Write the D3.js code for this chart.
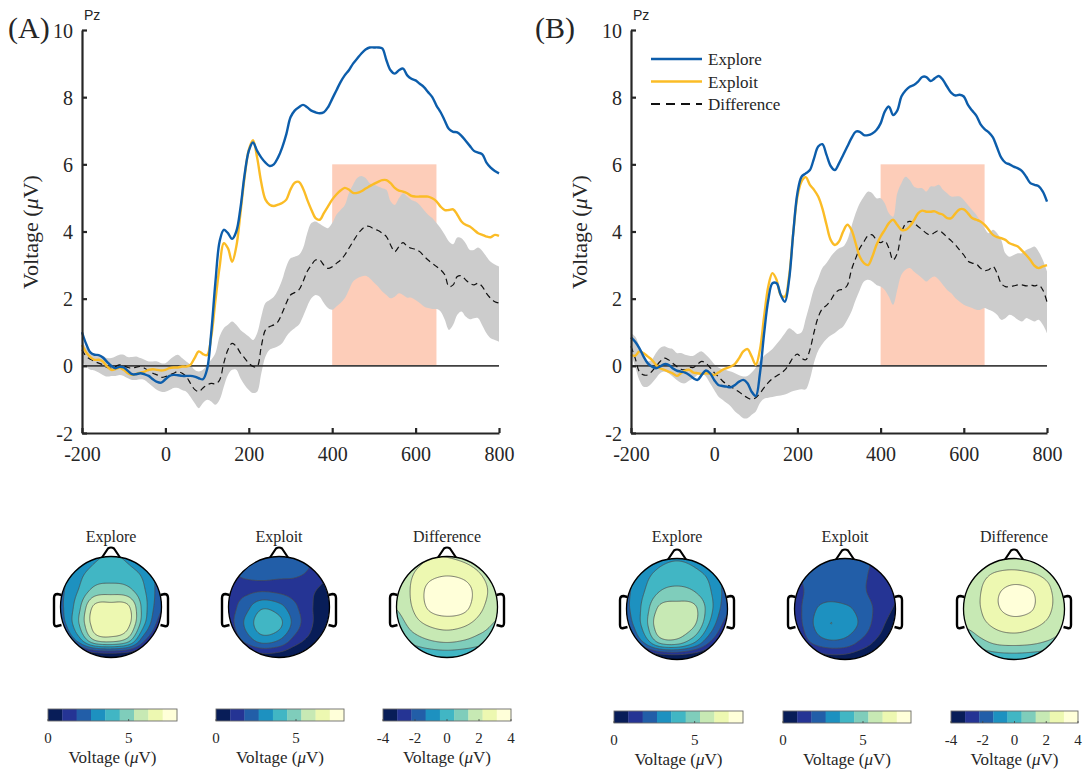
<!DOCTYPE html>
<html><head><meta charset="utf-8">
<script src="https://cdn.jsdelivr.net/npm/d3@7"></script>
<style>body{margin:0;background:#fff}svg{display:block}text{font-family:"Liberation Serif","Times New Roman",serif;fill:#262626}</style>
</head><body><svg id="c" width="1086" height="770"></svg>
<script>
// ---------- data ----------
const times = d3.range(-200, 801, 10);
const xTicks = [-200, 0, 200, 400, 600, 800];
const yTicks = [-2, 0, 2, 4, 6, 8, 10];
const seriesNames = ["Explore", "Exploit", "Difference"];
const windowMs = [400, 650];
const windowUv = [0, 6];

const exploreA = [1.0,0.65,0.4,0.33,0.32,0.25,0.12,0.0,-0.07,-0.03,
 -0.05,-0.15,-0.25,-0.25,-0.22,-0.25,-0.3,-0.4,-0.48,-0.5,
 -0.4,-0.3,-0.27,-0.28,-0.3,-0.3,-0.3,-0.32,-0.37,-0.4,
 -0.1,1.0,2.5,3.7,4.05,3.95,3.78,4.0,4.7,5.7,
 6.4,6.65,6.4,6.2,6.05,5.95,6.0,6.2,6.5,6.9,
 7.4,7.6,7.7,7.77,7.7,7.6,7.55,7.52,7.55,7.7,
 7.95,8.2,8.45,8.65,8.8,9.0,9.15,9.3,9.42,9.48,
 9.48,9.48,9.45,9.1,8.8,8.7,8.8,8.85,8.65,8.55,
 8.5,8.4,8.3,8.15,8.0,7.75,7.55,7.3,7.05,6.97,
 6.95,6.85,6.7,6.55,6.4,6.35,6.3,6.05,5.9,5.8,
 5.73];
const exploitA = [0.62,0.4,0.26,0.18,0.18,0.13,-0.02,-0.12,-0.1,-0.05,
 -0.12,-0.22,-0.27,-0.24,-0.2,-0.17,-0.12,-0.1,-0.12,-0.14,
 -0.12,-0.07,-0.05,-0.05,-0.02,-0.02,0.03,0.23,0.43,0.35,
 0.32,0.87,1.95,2.95,3.65,3.5,3.1,3.55,4.55,5.63,
 6.43,6.72,6.2,5.45,4.95,4.8,4.76,4.8,4.85,4.95,
 5.25,5.45,5.48,5.28,4.95,4.65,4.4,4.35,4.55,4.75,
 4.95,5.1,5.22,5.3,5.25,5.15,5.15,5.2,5.28,5.35,
 5.42,5.48,5.53,5.53,5.44,5.3,5.22,5.19,5.14,5.06,
 5.04,5.04,5.04,5.04,4.99,4.9,4.74,4.64,4.64,4.66,
 4.5,4.3,4.2,4.15,4.05,3.95,3.9,3.85,3.83,3.9,
 3.87];
const diffA = [0.48,0.28,0.2,0.13,0.08,0.03,-0.05,-0.07,-0.02,0.03,
 0.0,-0.05,-0.07,-0.04,-0.02,-0.07,-0.14,-0.22,-0.27,-0.34,
 -0.32,-0.27,-0.22,-0.17,-0.22,-0.32,-0.52,-0.7,-0.77,-0.66,
 -0.57,-0.52,-0.54,-0.42,0.08,0.48,0.67,0.58,0.38,0.23,
 0.08,-0.02,-0.02,0.58,1.07,1.17,1.22,1.32,1.57,1.87,
 2.11,2.18,2.26,2.51,2.81,3.0,3.15,3.15,3.0,2.9,
 2.95,3.05,3.15,3.3,3.5,3.7,3.9,4.05,4.15,4.15,
 4.07,4.03,3.95,3.85,3.6,3.4,3.55,3.67,3.55,3.5,
 3.47,3.4,3.27,3.15,3.05,2.96,2.86,2.71,2.36,2.41,
 2.66,2.68,2.56,2.46,2.41,2.46,2.36,2.16,2.01,1.91,
 1.87];
const diffAHigh = [0.78,0.53,0.4,0.36,0.33,0.3,0.23,0.23,0.28,0.33,
 0.33,0.26,0.26,0.28,0.23,0.18,0.13,0.13,0.13,0.08,
 0.08,0.18,0.28,0.33,0.23,0.13,0.03,-0.12,-0.17,-0.12,
 0.03,0.18,0.38,0.87,1.12,1.22,1.32,1.22,1.07,0.97,
 0.87,0.77,0.97,1.47,1.87,1.96,2.06,2.26,2.56,2.96,
 3.2,3.25,3.3,3.5,3.95,4.25,4.3,4.23,4.15,4.1,
 4.25,4.5,4.64,4.78,5.14,5.39,5.59,5.65,5.59,5.44,
 5.39,5.34,5.29,5.24,4.9,4.79,4.99,5.14,5.04,4.94,
 4.89,4.79,4.64,4.5,4.4,4.25,4.1,3.9,3.7,3.62,
 3.82,3.8,3.65,3.45,3.45,3.52,3.42,3.25,3.1,3.02,
 2.96];
const diffALow = [0.13,-0.02,-0.12,-0.14,-0.2,-0.27,-0.32,-0.3,-0.3,-0.27,
 -0.3,-0.37,-0.42,-0.42,-0.4,-0.42,-0.52,-0.62,-0.72,-0.77,
 -0.77,-0.72,-0.66,-0.66,-0.72,-0.77,-0.92,-1.11,-1.26,-1.11,
 -1.01,-1.06,-1.16,-1.01,-0.62,-0.27,-0.12,-0.12,-0.37,-0.57,
 -0.72,-0.81,-0.77,-0.22,0.28,0.48,0.53,0.58,0.67,0.87,
 1.02,1.12,1.22,1.47,1.77,2.01,2.11,2.06,1.87,1.72,
 1.67,1.77,1.87,2.01,2.26,2.51,2.61,2.66,2.68,2.61,
 2.48,2.36,2.21,2.11,2.01,2.06,2.16,2.11,2.03,2.03,
 1.96,1.87,1.77,1.72,1.69,1.69,1.62,1.37,1.07,1.22,
 1.52,1.62,1.47,1.39,1.42,1.42,1.2,0.97,0.82,0.77,
 0.72];

const exploreB = [0.85,0.72,0.53,0.28,0.08,-0.02,-0.07,-0.02,0.05,0.03,
 -0.07,-0.14,-0.17,-0.2,-0.27,-0.37,-0.42,-0.27,-0.14,-0.22,
 -0.42,-0.57,-0.6,-0.62,-0.64,-0.57,-0.47,-0.42,-0.52,-0.77,
 -0.9,-0.22,0.97,1.96,2.46,2.46,2.11,1.91,2.56,3.95,
 5.14,5.63,5.73,5.83,6.18,6.53,6.6,6.28,5.95,5.83,
 6.03,6.28,6.53,6.78,6.97,6.97,6.87,6.87,6.92,7.02,
 7.22,7.57,7.72,7.47,7.6,8.02,8.2,8.31,8.36,8.46,
 8.6,8.6,8.48,8.56,8.63,8.51,8.31,8.13,8.05,8.07,
 8.02,7.77,7.6,7.45,7.2,7.05,6.95,6.8,6.5,6.2,
 6.05,6.0,5.93,5.88,5.8,5.63,5.44,5.39,5.35,5.19,
 4.89];
const exploitB = [0.33,0.3,0.43,0.38,0.28,0.18,0.03,-0.07,-0.12,-0.17,
 -0.22,-0.3,-0.22,-0.14,-0.12,-0.2,-0.22,-0.24,-0.22,-0.24,
 -0.27,-0.2,-0.12,-0.07,-0.02,0.06,0.23,0.43,0.5,0.28,
 0.03,0.48,1.47,2.36,2.76,2.56,2.11,2.06,2.66,3.95,
 5.04,5.49,5.62,5.39,5.24,5.04,4.69,4.2,3.75,3.6,
 3.7,4.0,4.2,4.05,3.65,3.25,3.06,3.0,3.25,3.6,
 3.85,4.05,4.25,4.35,4.2,4.05,4.05,4.15,4.33,4.54,
 4.62,4.59,4.59,4.6,4.54,4.5,4.4,4.4,4.54,4.66,
 4.66,4.54,4.4,4.35,4.3,4.2,4.05,3.9,3.83,3.8,
 3.75,3.65,3.6,3.55,3.43,3.3,3.15,2.98,2.91,2.96,
 3.0];
const diffB = [0.58,0.23,-0.17,-0.27,-0.27,-0.17,-0.02,0.13,0.23,0.18,
 0.08,-0.02,-0.1,-0.12,-0.04,-0.05,0.05,0.13,0.08,-0.05,
 -0.2,-0.32,-0.45,-0.55,-0.62,-0.7,-0.78,-0.87,-0.95,-1.0,
 -0.95,-0.82,-0.65,-0.5,-0.38,-0.3,-0.22,-0.12,0.05,0.25,
 0.35,0.23,0.18,0.48,1.0,1.45,1.7,1.8,1.95,2.15,
 2.26,2.28,2.4,2.86,3.2,3.5,3.7,3.88,3.9,3.75,
 3.67,3.72,3.5,3.15,3.35,3.95,4.23,4.3,4.25,4.15,
 4.05,3.95,3.9,3.97,4.03,3.95,3.83,3.72,3.6,3.45,
 3.3,3.12,3.06,3.03,2.91,2.84,2.86,2.96,2.76,2.45,
 2.36,2.36,2.38,2.41,2.41,2.38,2.41,2.38,2.41,2.26,
 1.9];
const diffBHigh = [0.97,0.87,0.58,0.23,0.13,0.18,0.38,0.53,0.58,0.53,
 0.5,0.38,0.38,0.33,0.3,0.3,0.38,0.43,0.33,0.2,
 0.05,-0.05,-0.1,-0.13,-0.17,-0.22,-0.28,-0.32,-0.3,-0.2,
 -0.05,0.15,0.3,0.4,0.5,0.65,0.8,0.97,1.12,1.05,
 0.95,1.0,1.4,1.85,2.3,2.6,2.91,3.06,3.25,3.4,
 3.5,3.55,3.75,4.15,4.54,4.84,5.04,5.19,5.14,4.99,
 4.99,4.84,4.54,4.44,5.14,5.44,5.63,5.53,5.34,5.29,
 5.29,5.19,5.34,5.34,5.39,5.24,5.14,5.04,5.04,5.04,
 4.94,4.79,4.64,4.5,4.3,4.1,3.95,4.05,3.95,3.75,
 3.35,3.25,3.3,3.35,3.35,3.45,3.5,3.55,3.4,3.15,
 2.81];
const diffBLow = [0.38,-0.02,-0.42,-0.62,-0.62,-0.52,-0.37,-0.22,-0.17,-0.22,
 -0.32,-0.42,-0.5,-0.52,-0.44,-0.37,-0.27,-0.22,-0.32,-0.52,
 -0.72,-0.91,-1.01,-1.11,-1.21,-1.36,-1.46,-1.56,-1.56,-1.46,
 -1.36,-1.11,-0.98,-0.95,-0.93,-0.9,-0.88,-0.85,-0.8,-0.75,
 -0.72,-0.7,-0.7,-0.4,0.1,0.45,0.65,0.8,0.9,0.98,
 1.08,1.17,1.37,1.62,1.96,2.26,2.51,2.56,2.51,2.41,
 2.36,2.26,2.06,1.82,2.26,2.71,2.86,2.91,2.81,2.71,
 2.61,2.51,2.61,2.66,2.56,2.41,2.26,2.16,2.01,1.91,
 1.82,1.77,1.72,1.67,1.67,1.72,1.67,1.62,1.52,1.37,
 1.42,1.52,1.47,1.37,1.32,1.42,1.37,1.32,1.37,1.22,
 0.97];

const topoExploreA = [
 [2.2,2.6,3.4,3.6,3.4,2.6,2.0],
 [2.4,3.2,3.9,4.0,3.9,3.3,2.2],
 [2.5,3.5,4.7,4.9,4.7,3.6,2.2],
 [2.5,4.0,6.4,6.6,6.4,3.9,1.9],
 [2.2,4.2,6.6,6.75,6.5,3.6,1.2],
 [1.0,2.8,5.2,5.6,4.8,1.8,0.2],
 [-1.5,-1.0,-0.5,-0.3,-0.5,-1.0,-1.5]];
const topoExploitA = [
 [1.9,2.0,2.1,2.1,2.0,1.8,1.5],
 [1.7,1.9,2.0,1.95,1.9,1.6,1.0],
 [1.5,1.6,1.7,1.6,1.4,1.0,0.5],
 [1.4,2.3,3.4,3.0,1.9,0.9,0.2],
 [1.4,2.8,4.1,3.8,2.2,0.9,0.2],
 [0.8,2.0,3.0,2.6,1.3,0.5,0.0],
 [-0.5,0.0,0.4,0.3,-0.2,-0.6,-1.0]];
const topoDiffA = [
 [1.5,1.8,2.2,2.2,2.0,1.6,1.2],
 [1.6,2.2,2.8,3.0,2.8,2.2,1.6],
 [1.6,2.4,3.4,3.6,3.5,2.6,1.8],
 [1.4,2.3,3.3,3.6,3.4,2.4,1.6],
 [0.8,1.8,2.4,2.6,2.4,1.8,1.2],
 [0.0,0.8,1.3,1.5,1.3,0.9,0.6],
 [-1.0,-0.6,-0.3,-0.2,-0.3,-0.5,-0.6]];
const topoExploreB = [
 [2.2,2.6,3.3,3.5,3.3,2.6,2.0],
 [2.4,3.2,3.9,4.1,3.9,3.3,2.2],
 [2.5,3.5,4.5,4.7,4.5,3.6,2.3],
 [2.5,3.8,5.6,5.8,5.6,3.8,2.0],
 [2.1,3.8,6.0,5.9,5.4,3.2,1.2],
 [1.0,2.6,4.6,4.8,3.6,1.6,0.2],
 [-1.5,-1.0,-0.5,-0.3,-0.5,-1.0,-1.5]];
const topoExploitB = [
 [1.8,2.0,2.1,2.1,2.0,1.6,1.4],
 [1.7,2.0,2.1,2.0,1.9,1.5,1.2],
 [1.5,2.0,2.1,2.0,1.9,1.4,1.0],
 [1.4,2.4,3.1,2.9,2.3,1.5,0.8],
 [1.2,2.5,3.5,3.2,2.4,1.2,0.4],
 [0.6,1.8,2.4,2.3,1.5,0.6,0.2],
 [-0.8,0.0,0.4,0.4,0.0,-0.5,-0.8]];
const topoDiffB = [
 [1.2,1.5,1.6,1.5,1.3,1.0,0.8],
 [1.7,2.0,2.4,2.6,2.4,2.0,1.6],
 [1.8,2.2,3.0,3.4,3.2,2.4,1.8],
 [1.8,2.2,3.0,3.4,3.2,2.4,1.8],
 [1.4,1.9,2.4,2.6,2.4,2.0,1.5],
 [0.2,1.0,1.5,1.6,1.5,1.2,0.8],
 [-1.0,-0.5,-0.2,-0.1,-0.2,-0.4,-0.6]];
const condRange = [0, 8];
const diffRange = [-4, 4];
const condTicks = [0, 5];
const diffTicks = [-4, -2, 0, 2, 4];

// ---------- drawing ----------
const svg = d3.select("#c");
const BLUE = "#0c5dab", YELLOW = "#fbbc26", AX = "#262626";
const palette = d3.schemeYlGnBu[9].slice().reverse();

function erpPanel(opt) {
  const x = d3.scaleLinear().domain([-200, 800]).range([opt.x0, opt.x1]);
  const y = d3.scaleLinear().domain([-2, 10]).range([433, 30]);
  const g = svg.append("g");
  g.append("rect").attr("x", x(windowMs[0])).attr("y", y(windowUv[1]))
    .attr("width", x(windowMs[1]) - x(windowMs[0])).attr("height", y(windowUv[0]) - y(windowUv[1]))
    .attr("fill", "#fdcdb9");
  const band = d3.area().x((d, i) => x(times[i])).y0((d, i) => y(opt.lo[i])).y1((d, i) => y(opt.hi[i]))
    .curve(d3.curveCatmullRom.alpha(0.5));
  g.append("path").datum(opt.hi).attr("d", band).attr("fill", "#cccccc");
  g.append("line").attr("x1", x(-200)).attr("x2", x(800)).attr("y1", y(0)).attr("y2", y(0))
    .attr("stroke", "#404040").attr("stroke-width", 1.6);
  const line = d3.line().x((d, i) => x(times[i])).y(d => y(d)).curve(d3.curveCatmullRom.alpha(0.5));
  g.append("path").datum(opt.diff).attr("d", line).attr("fill", "none").attr("stroke", "#111")
    .attr("stroke-width", 1.2).attr("stroke-dasharray", "6,4");
  g.append("path").datum(opt.exploit).attr("d", line).attr("fill", "none").attr("stroke", YELLOW).attr("stroke-width", 2.4);
  g.append("path").datum(opt.explore).attr("d", line).attr("fill", "none").attr("stroke", BLUE).attr("stroke-width", 2.4);

  // axes
  const fmt = d => String(d);
  const xa = g.append("g").attr("transform", `translate(0,${y(-2)})`)
    .call(d3.axisBottom(x).tickValues(xTicks).tickSizeInner(-5).tickSizeOuter(0).tickPadding(10).tickFormat(fmt));
  const ya = g.append("g").attr("transform", `translate(${x(-200)},0)`)
    .call(d3.axisLeft(y).tickValues(yTicks).tickSizeInner(-5).tickSizeOuter(0).tickPadding(9).tickFormat(fmt));
  [xa, ya].forEach(a => {
    a.select(".domain").attr("stroke", AX).attr("stroke-width", 2.2);
    a.selectAll(".tick line").attr("stroke", AX).attr("stroke-width", 2.2);
    a.selectAll(".tick text").attr("fill", AX).style("font-size", "20px")
      .style("font-family", '"Liberation Serif","Times New Roman",serif');
  });
  xa.selectAll(".tick text").attr("dy", "0.9em");
  ya.selectAll(".tick text").attr("dy", "0.35em");

  const yl = g.append("text").attr("transform", `translate(${opt.x0 - 44},232) rotate(-90)`)
    .attr("text-anchor", "middle").style("font-size", "22px");
  yl.append("tspan").text("Voltage (");
  yl.append("tspan").style("font-style", "italic").text("\u03bc");
  yl.append("tspan").text("V)");
  g.append("text").attr("x", opt.x0 + 2).attr("y", 20).style("font-family", '"Liberation Sans",Arial,sans-serif')
    .style("font-size", "14px").text("Pz");
  g.append("text").attr("x", opt.labelX).attr("y", 38).style("font-size", "30px").text(opt.label);

  if (opt.legend) {
    const items = [
      {name: seriesNames[0], color: BLUE, dash: null, w: 2.4},
      {name: seriesNames[1], color: YELLOW, dash: null, w: 2.4},
      {name: seriesNames[2], color: "#111", dash: "9,6", w: 2.2}];
    items.forEach((it, k) => {
      const yy = 59 + k * 22.5;
      g.append("line").attr("x1", opt.x0 + 20).attr("x2", opt.x0 + 71).attr("y1", yy).attr("y2", yy)
        .attr("stroke", it.color).attr("stroke-width", it.w).attr("stroke-dasharray", it.dash);
      g.append("text").attr("x", opt.x0 + 77).attr("y", yy + 6).style("font-size", "17px").text(it.name);
    });
  }
}

erpPanel({x0: 82, x1: 499, explore: exploreA, exploit: exploitA, diff: diffA, lo: diffALow, hi: diffAHigh,
  label: "(A)", labelX: 8, legend: false});
erpPanel({x0: 631, x1: 1047, explore: exploreB, exploit: exploitB, diff: diffB, lo: diffBLow, hi: diffBHigh,
  label: "(B)", labelX: 535, legend: true});

// ---------- topomaps ----------
function cubic(p0, p1, p2, p3, t) {
  return p1 + 0.5 * t * (p2 - p0 + t * (2 * p0 - 5 * p1 + 4 * p2 - p3 + t * (3 * (p1 - p2) + p3 - p0)));
}
function sampleGrid(grid, gx, gy) {
  const n = grid.length - 1;
  gx = Math.max(0, Math.min(n, gx)); gy = Math.max(0, Math.min(n, gy));
  const ix = Math.min(n - 1, Math.floor(gx)), iy = Math.min(n - 1, Math.floor(gy));
  const tx = gx - ix, ty = gy - iy;
  const cl = v => Math.max(0, Math.min(n, v));
  const rows = [];
  for (let j = -1; j <= 2; j++) {
    const r = grid[cl(iy + j)];
    rows.push(cubic(r[cl(ix - 1)], r[cl(ix)], r[cl(ix + 1)], r[cl(ix + 2)], tx));
  }
  return cubic(rows[0], rows[1], rows[2], rows[3], ty);
}
let clipId = 0;
function topo(cx, cy, R, grid, range, title) {
  const N = 120, ext = 1.1;
  const vals = new Array(N * N);
  const n = grid.length - 1;
  for (let j = 0; j < N; j++) for (let i = 0; i < N; i++) {
    const hx = -ext + 2 * ext * (i + 0.5) / N, hy = -ext + 2 * ext * (j + 0.5) / N;
    vals[i + j * N] = sampleGrid(grid, (hx + 1) / 2 * n, (hy + 1) / 2 * n);
  }
  const step = (range[1] - range[0]) / 9;
  const thr = d3.range(1, 9).map(k => range[0] + k * step);
  const conts = d3.contours().size([N, N]).thresholds(thr)(vals);
  const id = "clip" + (clipId++);
  svg.append("clipPath").attr("id", id).append("circle").attr("cx", cx).attr("cy", cy).attr("r", R);
  const outer = svg.append("g").attr("clip-path", `url(#${id})`);
  outer.append("circle").attr("cx", cx).attr("cy", cy).attr("r", R).attr("fill", palette[0]);
  const inner = outer.append("g")
    .attr("transform", `translate(${cx - ext * R},${cy - ext * R}) scale(${2 * ext * R / N})`);
  const path = d3.geoPath();
  conts.forEach((c, k) => {
    inner.append("path").attr("d", path(c)).attr("fill", palette[k + 1]);
  });
  conts.forEach((c, k) => {
    inner.append("path").attr("d", path(c)).attr("fill", "none").attr("stroke", "#4d4d4d")
      .attr("stroke-width", 0.9).attr("vector-effect", "non-scaling-stroke").attr("stroke-opacity", 0.8);
  });
  // head outline, nose, ears
  svg.append("circle").attr("cx", cx).attr("cy", cy).attr("r", R).attr("fill", "none").attr("stroke", "#000").attr("stroke-width", 1.3);
  svg.append("path").attr("d", `M${cx - 9},${cy - R + 1} L${cx - 3},${cy - R - 8} Q${cx},${cy - R - 10} ${cx + 3},${cy - R - 8} L${cx + 9},${cy - R + 1}`)
    .attr("fill", "none").attr("stroke", "#000").attr("stroke-width", 2.2).attr("stroke-linejoin", "round");
  [-1, 1].forEach(s => {
    const ex = cx + s * R;
    svg.append("path").attr("d",
      `M${ex - s * 1},${cy - 12} L${ex + s * 3},${cy - 13} Q${ex + s * 6.5},${cy - 13} ${ex + s * 6.5},${cy - 9} L${ex + s * 6.5},${cy + 16} Q${ex + s * 6.5},${cy + 20} ${ex + s * 3},${cy + 19} L${ex - s * 1},${cy + 18}`)
      .attr("fill", "none").attr("stroke", "#000").attr("stroke-width", 2.4).attr("stroke-linejoin", "round");
  });
  svg.append("text").attr("x", cx).attr("y", 542).attr("text-anchor", "middle").style("font-size", "16px").text(title);
}
function colorbar(x0, x1, y0, range, ticks) {
  const h = 12;
  const cs = d3.scaleLinear().domain(range).range([x0, x1]);
  const step = (range[1] - range[0]) / 9;
  const g = svg.append("g");
  palette.forEach((col, k) => {
    g.append("rect").attr("x", cs(range[0] + k * step)).attr("y", y0)
      .attr("width", cs(range[0] + (k + 1) * step) - cs(range[0] + k * step) + 0.3).attr("height", h).attr("fill", col);
  });
  g.append("rect").attr("x", x0).attr("y", y0).attr("width", x1 - x0).attr("height", h)
    .attr("fill", "none").attr("stroke", "#6b6b6b").attr("stroke-width", 0.9);
  ticks.forEach(t => {
    g.append("line").attr("x1", cs(t)).attr("x2", cs(t)).attr("y1", y0 + h).attr("y2", y0 + h - 2).attr("stroke", "#444").attr("stroke-width", 0.8);
    g.append("text").attr("x", cs(t)).attr("y", y0 + 34).attr("text-anchor", "middle").style("font-size", "15px").text(t);
  });
  const lbl = g.append("text").attr("x", (x0 + x1) / 2).attr("y", y0 + 54).attr("text-anchor", "middle").style("font-size", "17px");
  lbl.append("tspan").text("Voltage (");
  lbl.append("tspan").style("font-style", "italic").text("\u03bc");
  lbl.append("tspan").text("V)");
}

topo(111, 607, 50.5, topoExploreA, condRange, seriesNames[0]);
topo(279, 607, 50.5, topoExploitA, condRange, seriesNames[1]);
topo(447, 607, 50.5, topoDiffA, diffRange, seriesNames[2]);
topo(677, 609, 50.5, topoExploreB, condRange, seriesNames[0]);
topo(845, 609, 50.5, topoExploitB, condRange, seriesNames[1]);
topo(1014, 609, 50.5, topoDiffB, diffRange, seriesNames[2]);

colorbar(48, 177, 709, condRange, condTicks);
colorbar(216, 344, 709, condRange, condTicks);
colorbar(383, 511, 709, diffRange, diffTicks);
colorbar(614, 743, 711, condRange, condTicks);
colorbar(783, 911, 711, condRange, condTicks);
colorbar(951, 1078, 711, diffRange, diffTicks);
</script></body></html>
